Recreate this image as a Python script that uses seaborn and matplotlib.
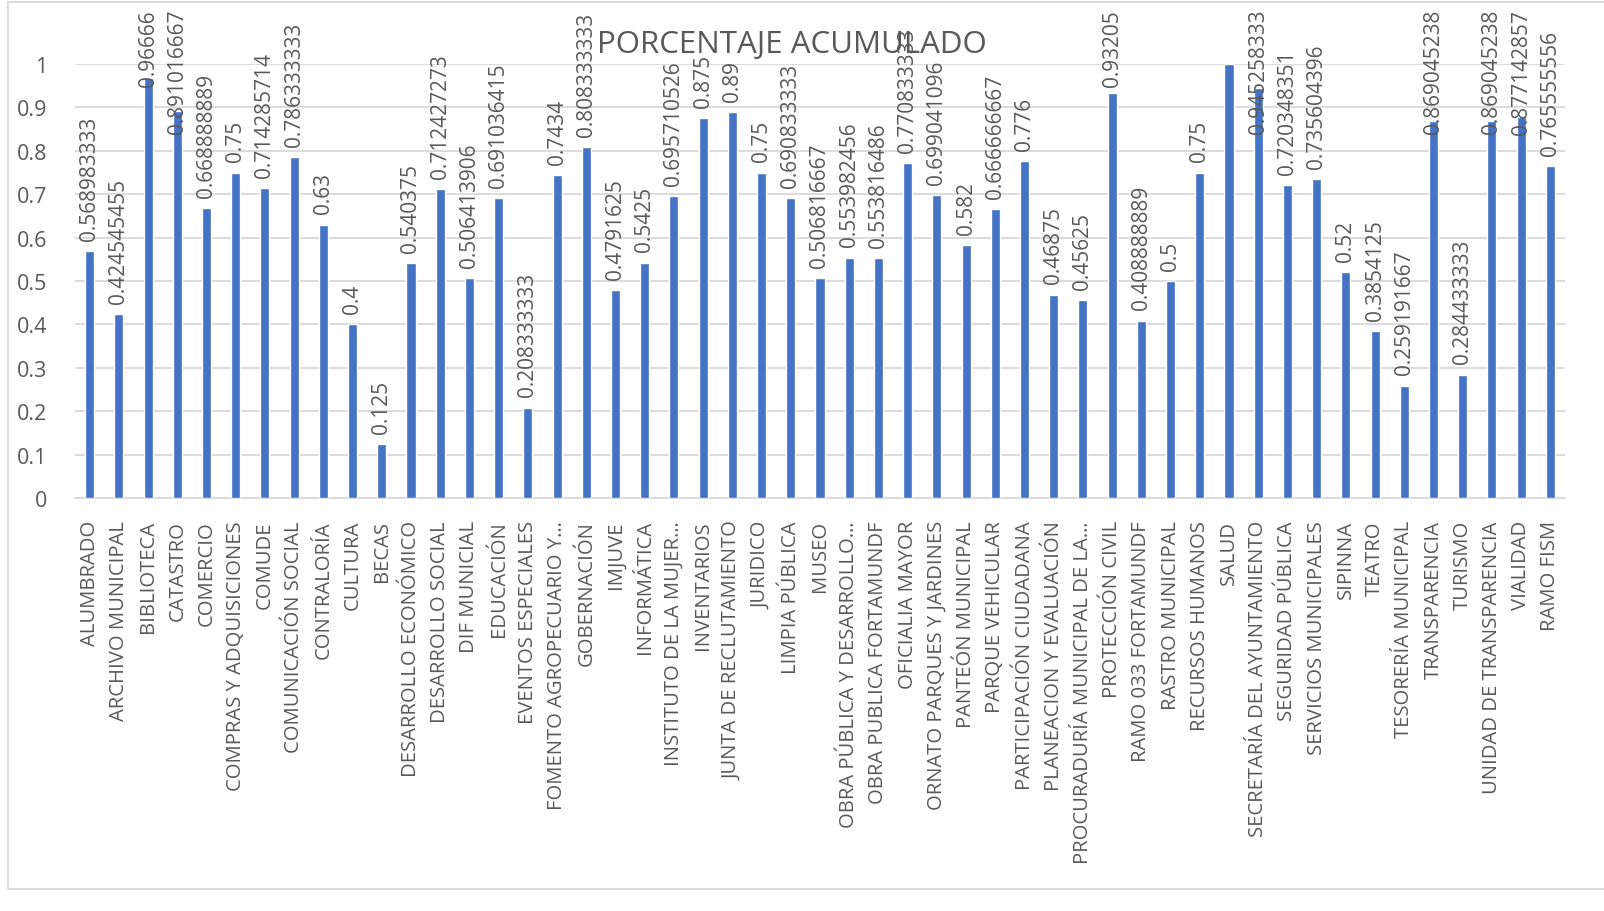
import matplotlib
matplotlib.use("Agg")
import matplotlib.pyplot as plt
import seaborn as sns
import pandas as pd
from matplotlib.patches import Rectangle

# --- Datos ---
areas = [
    "ALUMBRADO", "ARCHIVO MUNICIPAL", "BIBLIOTECA", "CATASTRO", "COMERCIO",
    "COMPRAS Y ADQUISICIONES", "COMUDE", "COMUNICACIÓN SOCIAL", "CONTRALORÍA",
    "CULTURA", "BECAS", "DESARROLLO ECONÓMICO", "DESARROLLO SOCIAL",
    "DIF MUNICIAL", "EDUCACIÓN", "EVENTOS ESPECIALES",
    "FOMENTO AGROPECUARIO Y…", "GOBERNACIÓN", "IMJUVE", "INFORMÁTICA",
    "INSTITUTO DE LA MUJER…", "INVENTARIOS", "JUNTA DE RECLUTAMIENTO",
    "JURIDICO", "LIMPIA PÚBLICA", "MUSEO", "OBRA PÚBLICA Y DESARROLLO…",
    "OBRA PUBLICA FORTAMUNDF", "OFICIALIA MAYOR", "ORNATO PARQUES Y JARDINES",
    "PANTEÓN MUNICIPAL", "PARQUE VEHICULAR", "PARTICIPACIÓN CIUDADANA",
    "PLANEACION Y EVALUACIÓN", "PROCURADURÍA MUNICIPAL DE LA…",
    "PROTECCIÓN CIVIL", "RAMO 033 FORTAMUNDF", "RASTRO MUNICIPAL",
    "RECURSOS HUMANOS", "SALUD", "SECRETARÍA DEL AYUNTAMIENTO",
    "SEGURIDAD PÚBLICA", "SERVICIOS MUNICIPALES", "SIPINNA", "TEATRO",
    "TESORERÍA MUNICIPAL", "TRANSPARENCIA", "TURISMO",
    "UNIDAD DE TRANSPARENCIA", "VIALIDAD", "RAMO FISM",
]
porcentaje = [
    0.568983333, 0.424545455, 0.96666, 0.891016667, 0.668888889,
    0.75, 0.714285714, 0.786333333, 0.63,
    0.4, 0.125, 0.540375, 0.712427273,
    0.506413906, 0.691036415, 0.208333333,
    0.7434, 0.808333333, 0.4791625, 0.5425,
    0.695710526, 0.875, 0.89,
    0.75, 0.690833333, 0.506816667, 0.553982456,
    0.553816486, 0.770833333, 0.699041096,
    0.582, 0.666666667, 0.776,
    0.46875, 0.45625,
    0.93205, 0.408888889, 0.5,
    0.75, 1.0, 0.945258333,
    0.720348351, 0.735604396, 0.52, 0.3854125,
    0.259191667, 0.869045238, 0.284433333,
    0.869045238, 0.877142857, 0.765555556,
]
# Excel no muestra la etiqueta de SALUD (valor 1)
etiquetas = ["" if v >= 1 else f"{v:.10g}" for v in porcentaje]
y_ticks = [0, 0.1, 0.2, 0.3, 0.4, 0.5, 0.6, 0.7, 0.8, 0.9, 1]

df = pd.DataFrame({"area": areas, "porcentaje": porcentaje})

# --- Estilo ---
sns.set_style("white")
plt.rcParams["font.family"] = ["Open Sans", "DejaVu Sans"]
gris = "#595959"
azul = "#4472C4"

W, H = 1604, 912
fig = plt.figure(figsize=(W / 100, H / 100), dpi=100)
ax = fig.add_axes([75 / W, 1 - 499 / H, (1565 - 75) / W, (499 - 65) / H])

sns.barplot(data=df, x="area", y="porcentaje", color=azul, saturation=1,
            width=0.31, ax=ax, zorder=3)

ax.set_ylim(0, 1)
ax.set_xlim(-0.5, len(areas) - 0.5)
ax.set_yticks(y_ticks)
ax.set_yticklabels([f"{t:g}" for t in y_ticks], fontsize=15.5, color=gris)
ax.yaxis.grid(True, color="#D9D9D9", linewidth=1.3, zorder=0)
ax.set_axisbelow(True)
ax.tick_params(axis="y", length=0, pad=20)
ax.tick_params(axis="x", length=0, pad=16)
ax.set_xticks(range(len(areas)))
ax.set_xticklabels(areas, rotation=90, ha="center", va="top",
                   fontsize=14.6, color=gris)
ax.set_xlabel("")
ax.set_ylabel("")
for s in ["top", "right", "left"]:
    ax.spines[s].set_visible(False)
ax.spines["bottom"].set_color("#D9D9D9")
ax.spines["bottom"].set_linewidth(1.3)

# Etiquetas de datos
off = 8
textos = []
for i, (v, lab) in enumerate(zip(porcentaje, etiquetas)):
    if not lab:
        continue
    t = ax.annotate(lab, (i, v), xytext=(0, off), textcoords="offset points",
                    rotation=90, ha="center", va="bottom", fontsize=15,
                    color=gris, annotation_clip=False, zorder=4)
    textos.append(t)

# Título
fig.text(792 / W, 1 - 45 / H, "PORCENTAJE ACUMULADO", ha="center",
         va="center", fontsize=22.5, color=gris, zorder=2)

# Mantener etiquetas dentro del área del gráfico (como Excel)
fig.canvas.draw()
r = fig.canvas.get_renderer()
limite = H - 10
for t in textos:
    bb = t.get_window_extent(renderer=r)
    if bb.y1 > limite:
        exceso = (bb.y1 - limite) * 72 / fig.dpi
        t.xyann = (0, off - exceso)

# Borde del área del gráfico
fig.patches.append(Rectangle((8 / W, 1 - 890 / H), (W - 4) / W, 887 / H,
                             transform=fig.transFigure, fill=False,
                             edgecolor="#D9D9D9", linewidth=1.3))

fig.savefig("out.png", dpi=100)
